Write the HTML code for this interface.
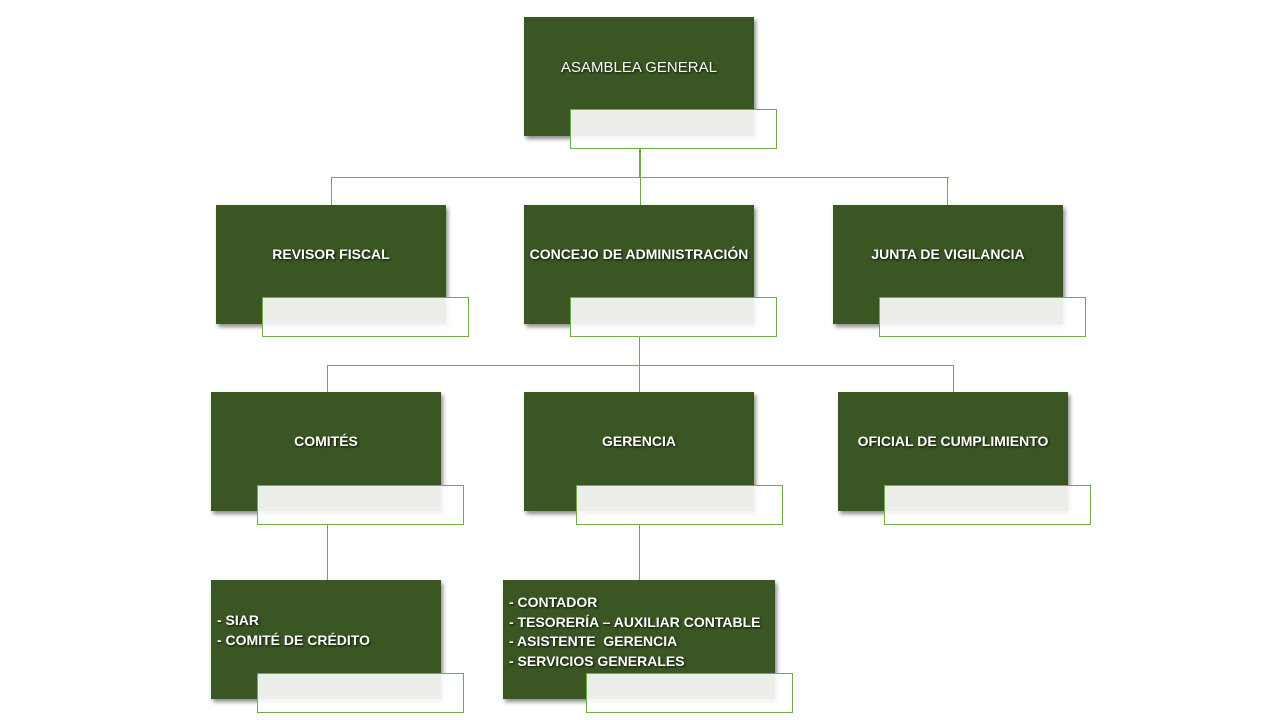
<!DOCTYPE html>
<html><head><meta charset="utf-8"><style>
body{margin:0;width:1280px;height:720px;background:#fff;position:relative;overflow:hidden;font-family:"Liberation Sans",sans-serif}
.b{position:absolute;background:#3a5623;box-shadow:2px 3px 4px rgba(0,0,0,0.45);color:#fff;font-weight:bold;font-size:14px;text-shadow:1px 1px 2px rgba(0,0,0,0.8);text-align:center;box-sizing:border-box;padding-top:41px;white-space:nowrap}
.s{position:absolute;width:207px;height:40px;box-sizing:border-box;border:1px solid #70ad47;background:rgba(255,255,255,0.9)}
.l{position:absolute;background:#70ad47}
.list{text-align:left;padding:13px 0 0 6px;line-height:19.5px}
</style></head><body>
<div class="l" style="left:639px;top:149px;width:2px;height:29px"></div>
<div class="l" style="left:331px;top:177px;width:618px;height:1px"></div>
<div class="l" style="left:331px;top:177px;width:1px;height:28px"></div>
<div class="l" style="left:640px;top:177px;width:1px;height:28px"></div>
<div class="l" style="left:947px;top:177px;width:1px;height:28px"></div>
<div class="l" style="left:639px;top:337px;width:1px;height:28px"></div>
<div class="l" style="left:327px;top:365px;width:627px;height:1px"></div>
<div class="l" style="left:327px;top:365px;width:1px;height:27px"></div>
<div class="l" style="left:639px;top:365px;width:1px;height:27px"></div>
<div class="l" style="left:953px;top:365px;width:1px;height:27px"></div>
<div class="l" style="left:327px;top:525px;width:1px;height:55px"></div>
<div class="l" style="left:639px;top:525px;width:1px;height:55px"></div>

<div class="b" style="left:524px;top:17px;width:230px;height:119px;font-weight:normal;font-size:15px;padding-top:42px">ASAMBLEA GENERAL</div>
<div class="s" style="left:570px;top:109px"></div>

<div class="b" style="left:216px;top:205px;width:230px;height:119px">REVISOR FISCAL</div>
<div class="s" style="left:262px;top:297px"></div>
<div class="b" style="left:524px;top:205px;width:230px;height:119px">CONCEJO DE ADMINISTRACIÓN</div>
<div class="s" style="left:570px;top:297px"></div>
<div class="b" style="left:833px;top:205px;width:230px;height:119px">JUNTA DE VIGILANCIA</div>
<div class="s" style="left:879px;top:297px"></div>

<div class="b" style="left:211px;top:392px;width:230px;height:119px">COMITÉS</div>
<div class="s" style="left:257px;top:485px"></div>
<div class="b" style="left:524px;top:392px;width:230px;height:119px">GERENCIA</div>
<div class="s" style="left:576px;top:485px"></div>
<div class="b" style="left:838px;top:392px;width:230px;height:119px">OFICIAL DE CUMPLIMIENTO</div>
<div class="s" style="left:884px;top:485px"></div>

<div class="b list" style="left:211px;top:580px;width:230px;height:119px;padding-top:31px">- SIAR<br>- COMITÉ DE CRÉDITO</div>
<div class="s" style="left:257px;top:673px"></div>
<div class="b list" style="left:503px;top:580px;width:272px;height:119px">- CONTADOR<br>- TESORERÍA – AUXILIAR CONTABLE<br>- ASISTENTE&nbsp; GERENCIA<br>- SERVICIOS GENERALES</div>
<div class="s" style="left:586px;top:673px"></div>
</body></html>
